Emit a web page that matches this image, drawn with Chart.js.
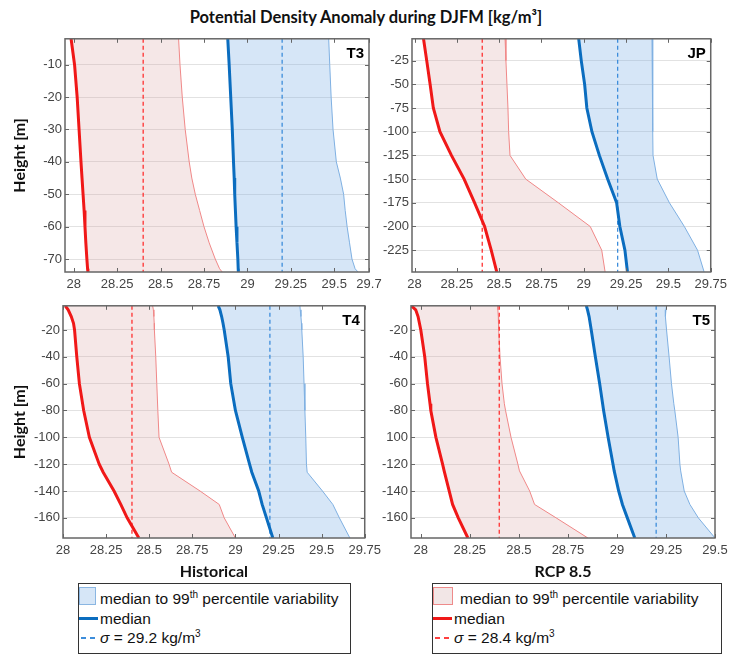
<!DOCTYPE html>
<html>
<head>
<meta charset="utf-8">
<script src="https://cdn.jsdelivr.net/npm/chart.js@4.4.1/dist/chart.umd.min.js"></script>
<style>
  body { margin: 0; background: #fff; width: 732px; height: 654px; position: relative; overflow: hidden; font-family: "Liberation Sans", Arial, sans-serif; }
  canvas { position: absolute; }
  #title { position: absolute; left: 0; width: 732px; top: 7px; line-height: 22px; text-align: center; font: bold 16.5px Lato, sans-serif; color: #111; }
  .legend { position: absolute; top: 583px; height: 71px; border: 1px solid #333; box-sizing: border-box; font-size: 15.5px; color: #111; background: #fff; }
  .legend .row { position: absolute; height: 20px; line-height: 20px; white-space: nowrap; }
  .legend sup { font-size: 10px; vertical-align: 6px; line-height: 0; }
  .sw { position: absolute; }
</style>
</head>
<body>
<div id="title">Potential Density Anomaly during DJFM [kg/m³]</div>

<canvas id="cT3"></canvas>
<canvas id="cJP"></canvas>
<canvas id="cT4"></canvas>
<canvas id="cT5"></canvas>

<div class="legend" style="left:78px;width:273px">
  <div class="sw" style="left:0;top:3px;width:17px;height:18px;background:#d6e6f7;border:1px solid #8ab6e2;box-sizing:border-box"></div>
  <div class="row" style="left:21px;top:5px">median to 99<sup>th</sup> percentile variability</div>
  <div class="sw" style="left:0;top:33px;width:19px;height:3px;background:#0b6dbf"></div>
  <div class="row" style="left:21px;top:25px">median</div>
  <div class="sw" style="left:2px;top:53px;width:5px;height:1.5px;background:#3d8ddb"></div>
  <div class="sw" style="left:11px;top:53px;width:5px;height:1.5px;background:#3d8ddb"></div>
  <div class="row" style="left:21px;top:44px"><i>σ</i> = 29.2 kg/m<sup>3</sup></div>
</div>

<div class="legend" style="left:432px;width:290px">
  <div class="sw" style="left:0;top:3px;width:20px;height:18px;background:#f2e6e6;border:1px solid #ee8a8a;box-sizing:border-box"></div>
  <div class="row" style="left:27px;top:5px">median to 99<sup>th</sup> percentile variability</div>
  <div class="sw" style="left:0;top:33px;width:19px;height:3px;background:#f01818"></div>
  <div class="row" style="left:21px;top:25px">median</div>
  <div class="sw" style="left:2px;top:53px;width:5px;height:1.5px;background:#ff4040"></div>
  <div class="sw" style="left:11px;top:53px;width:5px;height:1.5px;background:#ff4040"></div>
  <div class="row" style="left:21px;top:44px"><i>σ</i> = 28.4 kg/m<sup>3</sup></div>
</div>

<script>
// reference densities (dashed lines)
const sigmaHist = 29.2;
const sigmaRcp = 28.4;

// T3
const depthT3 = [-2, -10, -20, -30, -40, -45, -50, -55, -60, -65, -70, -73, -74];
const histMedianT3 = [28.887, 28.895, 28.904, 28.913, 28.92, 28.924, 28.927, 28.931, 28.935, 28.94, 28.945, 28.947, 28.948];
const hist99T3 = [29.468, 29.474, 29.482, 29.493, 29.512, 29.535, 29.554, 29.563, 29.574, 29.588, 29.602, 29.62, 29.637];
const rcpMedianT3 = [27.985, 28.005, 28.02, 28.031, 28.042, 28.048, 28.054, 28.06, 28.065, 28.07, 28.076, 28.08, 28.082];
const rcp99T3 = [28.604, 28.612, 28.625, 28.642, 28.665, 28.68, 28.7, 28.725, 28.75, 28.78, 28.815, 28.84, 28.855];
const xTicksT3 = [28, 28.25, 28.5, 28.75, 29, 29.25, 29.5, 29.7];
const yTicksT3 = [-10, -20, -30, -40, -50, -60, -70];

// JP
const depthJP = [-2, -25, -50, -75, -100, -125, -150, -175, -200, -225, -248];
const histMedianJP = [28.97, 28.985, 29.005, 29.018, 29.048, 29.092, 29.141, 29.194, 29.213, 29.243, 29.258];
const hist99JP = [29.403, 29.406, 29.407, 29.408, 29.408, 29.409, 29.434, 29.506, 29.594, 29.672, 29.711];
const rcpMedianJP = [28.053, 28.072, 28.092, 28.111, 28.15, 28.218, 28.293, 28.355, 28.414, 28.453, 28.486];
const rcp99JP = [28.535, 28.54, 28.546, 28.552, 28.556, 28.564, 28.657, 28.85, 29.038, 29.106, 29.126];
const xTicksJP = [28, 28.25, 28.5, 28.75, 29, 29.25, 29.5, 29.75];
const yTicksJP = [-25, -50, -75, -100, -125, -150, -175, -200, -225];

// T4
const depthT4 = [-2, -5, -10, -15, -20, -40, -60, -80, -100, -120, -126, -140, -150, -160, -175];
const histMedianT4 = [28.9, 28.91, 28.92, 28.928, 28.935, 28.958, 28.973, 29.0, 29.04, 29.082, 29.095, 29.135, 29.155, 29.18, 29.217];
const hist99T4 = [29.374, 29.376, 29.38, 29.383, 29.385, 29.393, 29.398, 29.403, 29.408, 29.412, 29.416, 29.505, 29.565, 29.603, 29.664];
const rcpMedianT4 = [28.013, 28.03, 28.048, 28.061, 28.067, 28.08, 28.095, 28.12, 28.153, 28.21, 28.233, 28.296, 28.335, 28.372, 28.44];
const rcp99T4 = [28.52, 28.524, 28.527, 28.529, 28.53, 28.538, 28.544, 28.55, 28.557, 28.615, 28.63, 28.795, 28.906, 28.935, 29.0];
const xTicksT4 = [28, 28.25, 28.5, 28.75, 29, 29.25, 29.5, 29.75];
const yTicksT4 = [-20, -40, -60, -80, -100, -120, -140, -160];

// T5
const depthT5 = [-2, -5, -10, -20, -40, -60, -75, -80, -100, -120, -125, -140, -150, -160, -175];
const histMedianT5 = [28.844, 28.85, 28.858, 28.869, 28.89, 28.912, 28.927, 28.932, 28.955, 28.98, 28.986, 29.009, 29.028, 29.053, 29.091];
const hist99T5 = [29.253, 29.25, 29.247, 29.253, 29.266, 29.278, 29.29, 29.295, 29.312, 29.321, 29.325, 29.343, 29.372, 29.415, 29.5];
const rcpMedianT5 = [27.952, 27.974, 27.986, 28.0, 28.02, 28.034, 28.047, 28.051, 28.077, 28.111, 28.119, 28.145, 28.162, 28.191, 28.24];
const rcp99T5 = [28.392, 28.393, 28.395, 28.397, 28.404, 28.414, 28.426, 28.432, 28.46, 28.495, 28.503, 28.555, 28.58, 28.69, 28.852];
const xTicksT5 = [28, 28.25, 28.5, 28.75, 29, 29.25, 29.5];
const yTicksT5 = [-20, -40, -60, -80, -100, -120, -140, -160];
const yLabelsT5 = ["-20", "-40", "-60", "-80", "100", "-120", "-140", "-160"];

const tickFont = { family: "Liberation Sans", size: 13 };
const boldFont = { family: "Lato", size: 16, weight: "bold" };

function pts(xs, ys) {
  return xs.map((x, i) => ({ x: x, y: ys[i] }));
}

// frame + inward tick marks + panel name, matlab style
const framePlugin = {
  id: "frame",
  afterDatasetsDraw(chart, args, opts) {
    const { ctx, chartArea: a, scales } = chart;
    ctx.save();
    ctx.strokeStyle = "#666";
    ctx.lineWidth = 1;
    ctx.beginPath();
    scales.x.ticks.forEach(t => {
      const px = Math.round(scales.x.getPixelForValue(t.value)) + 0.5;
      ctx.moveTo(px, a.bottom); ctx.lineTo(px, a.bottom - 4);
      ctx.moveTo(px, a.top); ctx.lineTo(px, a.top + 4);
    });
    scales.y.ticks.forEach(t => {
      const py = Math.round(scales.y.getPixelForValue(t.value)) + 0.5;
      ctx.moveTo(a.left, py); ctx.lineTo(a.left + 4, py);
      ctx.moveTo(a.right, py); ctx.lineTo(a.right - 4, py);
    });
    ctx.stroke();
    ctx.lineWidth = 1.5;
    ctx.strokeRect(a.left, a.top, a.right - a.left, a.bottom - a.top);
    ctx.fillStyle = "#000";
    ctx.font = "bold 15px 'Liberation Sans'";
    ctx.textAlign = "right";
    ctx.textBaseline = "top";
    ctx.fillText(opts.name, a.right - 5, a.top + 8);
    ctx.restore();
  }
};

function panel(id, name, box, d) {
  const yw = d.yw, xh = d.xh, padTop = 10, padRight = 18;
  const cv = document.getElementById(id);
  cv.width = yw + (box.r - box.l) + padRight;
  cv.height = padTop + (box.b - box.t) + xh;
  cv.style.left = (box.l - yw) + "px";
  cv.style.top = (box.t - padTop) + "px";

  const yMin = d.yRange[0], yMax = d.yRange[1];
  const line = (data, color, width, extra) => Object.assign({
    data: data, borderColor: color, borderWidth: width, pointRadius: 0, tension: 0, fill: false
  }, extra || {});

  return new Chart(cv.getContext("2d"), {
    type: "line",
    data: {
      datasets: [
        line(pts(d.hist99, d.depth), "#7fb0e2", 1, { backgroundColor: "rgba(118,172,228,0.3)", fill: "+1", order: 5 }),
        line(pts(d.histMedian, d.depth), "#0b6dbf", 3, { order: 1 }),
        line(pts(d.rcp99, d.depth), "#f08888", 1, { backgroundColor: "rgba(215,155,155,0.24)", fill: "+1", order: 5 }),
        line(pts(d.rcpMedian, d.depth), "#f01818", 3, { order: 1 }),
        line([{ x: sigmaHist, y: yMax }, { x: sigmaHist, y: yMin }], "#3d8ddb", 1.3, { borderDash: [4, 3], order: 2 }),
        line([{ x: sigmaRcp, y: yMax }, { x: sigmaRcp, y: yMin }], "#ff3030", 1.3, { borderDash: [4, 3], order: 2 })
      ]
    },
    options: {
      indexAxis: "y",
      responsive: false,
      animation: false,
      events: [],
      layout: { padding: { top: padTop, right: padRight, left: 0, bottom: 0 } },
      plugins: {
        legend: { display: false },
        tooltip: { enabled: false },
        frame: { name: name }
      },
      scales: {
        x: {
          type: "linear",
          min: d.xRange[0],
          max: d.xRange[1],
          afterBuildTicks: s => { s.ticks = d.xTicks.map(v => ({ value: v })); },
          afterFit: s => { s.height = xh; },
          ticks: { font: tickFont, color: "#444", padding: 5, maxRotation: 0, autoSkip: false, callback: v => String(v) },
          grid: { display: false, drawTicks: false },
          border: { display: false },
          title: { display: !!d.xTitle, text: d.xTitle || "", font: boldFont, color: "#111", padding: { top: 0, bottom: 0 } }
        },
        y: {
          type: "linear",
          min: yMin,
          max: yMax,
          afterBuildTicks: s => { s.ticks = d.yTicks.map(v => ({ value: v })); },
          afterFit: s => { s.width = yw; },
          ticks: {
            font: tickFont, color: "#444", padding: 3, autoSkip: false,
            callback: (v, i) => d.yLabels ? d.yLabels[i] : String(v)
          },
          grid: { color: "#e2e2e2", drawTicks: false },
          border: { display: false },
          title: { display: !!d.yTitle, text: d.yTitle || "", font: boldFont, color: "#111", padding: { top: 10, bottom: 0 } }
        }
      }
    },
    plugins: [framePlugin]
  });
}

panel("cT3", "T3", { l: 65, t: 38, r: 369, b: 272 }, {
  yw: 65, xh: 25, depth: depthT3, histMedian: histMedianT3, hist99: hist99T3,
  rcpMedian: rcpMedianT3, rcp99: rcp99T3, xTicks: xTicksT3, yTicks: yTicksT3,
  xRange: [27.95, 29.7], yRange: [-74, -2], yTitle: "Height [m]"
});
panel("cJP", "JP", { l: 412, t: 38, r: 714, b: 272 }, {
  yw: 45, xh: 25, depth: depthJP, histMedian: histMedianJP, hist99: hist99JP,
  rcpMedian: rcpMedianJP, rcp99: rcp99JP, xTicks: xTicksJP, yTicks: yTicksJP,
  xRange: [27.985, 29.75], yRange: [-248, -2]
});
panel("cT4", "T4", { l: 63, t: 305, r: 368, b: 538 }, {
  yw: 63, xh: 43, depth: depthT4, histMedian: histMedianT4, hist99: hist99T4,
  rcpMedian: rcpMedianT4, rcp99: rcp99T4, xTicks: xTicksT4, yTicks: yTicksT4,
  xRange: [28, 29.75], yRange: [-175, -2], yTitle: "Height [m]", xTitle: "Historical"
});
panel("cT5", "T5", { l: 411, t: 305, r: 715, b: 538 }, {
  yw: 45, xh: 43, depth: depthT5, histMedian: histMedianT5, hist99: hist99T5,
  rcpMedian: rcpMedianT5, rcp99: rcp99T5, xTicks: xTicksT5, yTicks: yTicksT5, yLabels: yLabelsT5,
  xRange: [27.95, 29.5], yRange: [-175, -2], xTitle: "RCP 8.5"
});
</script>
</body>
</html>
